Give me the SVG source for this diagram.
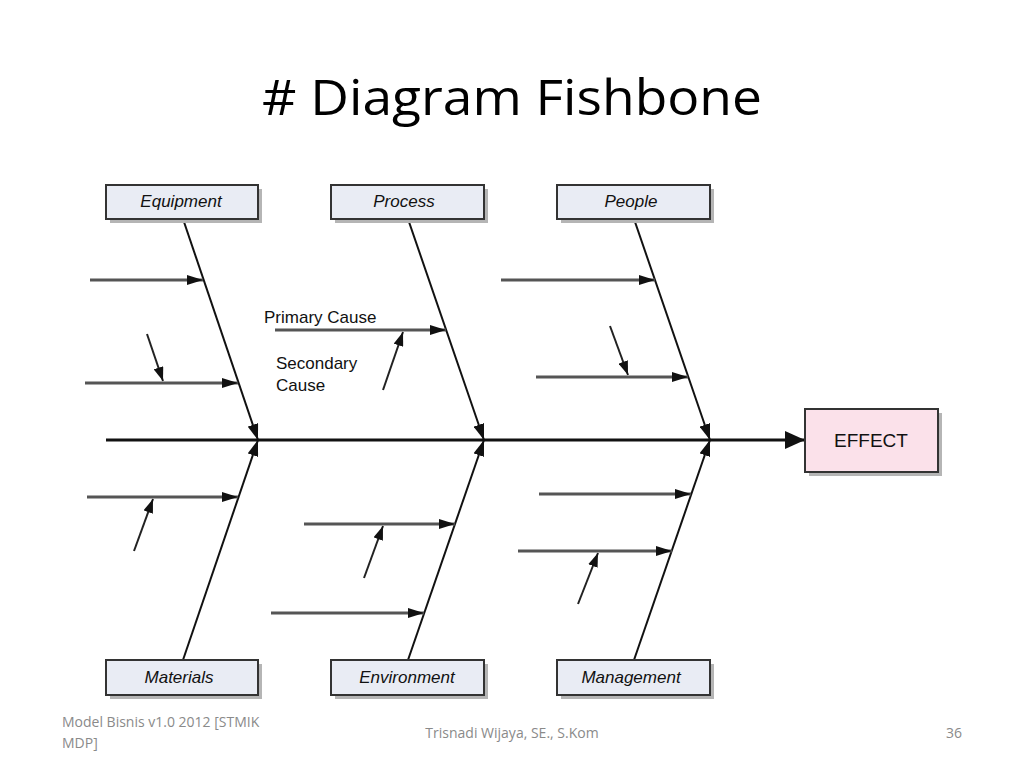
<svg xmlns="http://www.w3.org/2000/svg" width="1024" height="768" viewBox="0 0 1024 768">
<defs>
<marker id="ah" viewBox="0 0 16 10" refX="16" refY="5" markerWidth="16" markerHeight="10" markerUnits="userSpaceOnUse" orient="auto">
<path d="M0,0 L16,5 L0,10 Z" fill="#111"/>
</marker>
<marker id="ahs" viewBox="0 0 14 10" refX="14" refY="5" markerWidth="14" markerHeight="10" markerUnits="userSpaceOnUse" orient="auto">
<path d="M0,0 L14,5 L0,10 Z" fill="#111"/>
</marker>
<marker id="ahb" viewBox="0 0 16 11" refX="16" refY="5.5" markerWidth="16" markerHeight="11" markerUnits="userSpaceOnUse" orient="auto">
<path d="M0,0 L16,5.5 L0,11 Z" fill="#111"/>
</marker>
<marker id="ahm" viewBox="0 0 20 18" refX="20" refY="9" markerWidth="20" markerHeight="18" markerUnits="userSpaceOnUse" orient="auto">
<path d="M0,0 L20,9 L0,18 Z" fill="#111"/>
</marker>
</defs>
<style>
.box{fill:#e9ecf4;stroke:#333;stroke-width:2}
.shadow{fill:#b5b5b5}
.lbl{font-family:"Liberation Sans",Arial,sans-serif;font-size:17px;font-style:italic;fill:#111;text-anchor:middle}
.bone{stroke:#111;stroke-width:2;fill:none;marker-end:url(#ahb)}
.cause{stroke:#555;stroke-width:3;fill:none;marker-end:url(#ah)}
.sec{stroke:#222;stroke-width:2;fill:none;marker-end:url(#ahs)}
.note{font-family:"Liberation Sans",Arial,sans-serif;font-size:17px;fill:#111}
.foot{font-family:"Open Sans","Noto Sans",sans-serif;font-size:14px;fill:#8a8a8a}
</style>
<rect width="1024" height="768" fill="#fff"/>
<text x="512" y="115" font-family="Open Sans,Noto Sans,sans-serif" font-size="50" text-anchor="middle" fill="#000" textLength="500" lengthAdjust="spacingAndGlyphs"># Diagram Fishbone</text>

<g id="connectors">
<line x1="106" y1="440" x2="805" y2="440" stroke="#111" stroke-width="3" marker-end="url(#ahm)"/>
<line class="bone" x1="183" y1="219" x2="258" y2="440"/>
<line class="bone" x1="408" y1="219" x2="484" y2="440"/>
<line class="bone" x1="634" y1="219" x2="710" y2="440"/>
<line class="bone" x1="183" y1="660" x2="258" y2="440"/>
<line class="bone" x1="408" y1="660" x2="484" y2="440"/>
<line class="bone" x1="634" y1="660" x2="710" y2="440"/>

<line class="cause" x1="90" y1="280" x2="203" y2="280"/>
<line class="cause" x1="85" y1="383" x2="238" y2="383"/>
<line class="sec" x1="147" y1="334" x2="163" y2="381"/>

<line class="cause" x1="275" y1="330" x2="446" y2="330"/>
<line class="sec" x1="383" y1="390" x2="403" y2="332"/>

<line class="cause" x1="501" y1="280" x2="655" y2="280"/>
<line class="cause" x1="536" y1="377" x2="688" y2="377"/>
<line class="sec" x1="610" y1="326" x2="628" y2="375"/>

<line class="cause" x1="87" y1="497" x2="238" y2="497"/>
<line class="sec" x1="134" y1="551" x2="153" y2="499"/>

<line class="cause" x1="304" y1="524" x2="455" y2="524"/>
<line class="sec" x1="364" y1="578" x2="383" y2="526"/>
<line class="cause" x1="271" y1="613" x2="424" y2="613"/>

<line class="cause" x1="539" y1="494" x2="691" y2="494"/>
<line class="cause" x1="518" y1="551" x2="672" y2="551"/>
<line class="sec" x1="578" y1="604" x2="598" y2="553"/>
</g>

<g id="equipment">
<rect class="shadow" x="110" y="189" width="152" height="34"/>
<rect class="box" x="106" y="185" width="152" height="34"/>
<text class="lbl" x="181" y="207">Equipment</text>
</g>
<g id="process">
<rect class="shadow" x="335" y="189" width="153" height="34"/>
<rect class="box" x="331" y="185" width="153" height="34"/>
<text class="lbl" x="404" y="207">Process</text>
</g>
<g id="people">
<rect class="shadow" x="561" y="189" width="153" height="34"/>
<rect class="box" x="557" y="185" width="153" height="34"/>
<text class="lbl" x="631" y="207">People</text>
</g>
<g id="materials">
<rect class="shadow" x="110" y="664" width="152" height="35"/>
<rect class="box" x="106" y="660" width="152" height="35"/>
<text class="lbl" x="179" y="683">Materials</text>
</g>
<g id="environment">
<rect class="shadow" x="335" y="664" width="153" height="35"/>
<rect class="box" x="331" y="660" width="153" height="35"/>
<text class="lbl" x="407" y="683">Environment</text>
</g>
<g id="management">
<rect class="shadow" x="561" y="664" width="153" height="35"/>
<rect class="box" x="557" y="660" width="153" height="35"/>
<text class="lbl" x="631" y="683">Management</text>
</g>
<g id="effect">
<rect class="shadow" x="809" y="413" width="133" height="63"/>
<rect x="805" y="409" width="133" height="63" fill="#fbe1ea" stroke="#333" stroke-width="2"/>
<text x="871" y="447" font-family="Liberation Sans,Arial,sans-serif" font-size="19" text-anchor="middle" fill="#111">EFFECT</text>
</g>

<g id="notes">
<text class="note" x="264" y="323">Primary Cause</text>
<text class="note" x="276" y="369">Secondary</text>
<text class="note" x="276" y="391">Cause</text>
</g>

<g id="footer">
<text class="foot" x="62" y="727">Model Bisnis v1.0 2012 [STMIK</text>
<text class="foot" x="62" y="748">MDP]</text>
<text class="foot" x="512" y="738" text-anchor="middle">Trisnadi Wijaya, SE., S.Kom</text>
<text class="foot" x="962" y="738" text-anchor="end">36</text>
</g>
</svg>
